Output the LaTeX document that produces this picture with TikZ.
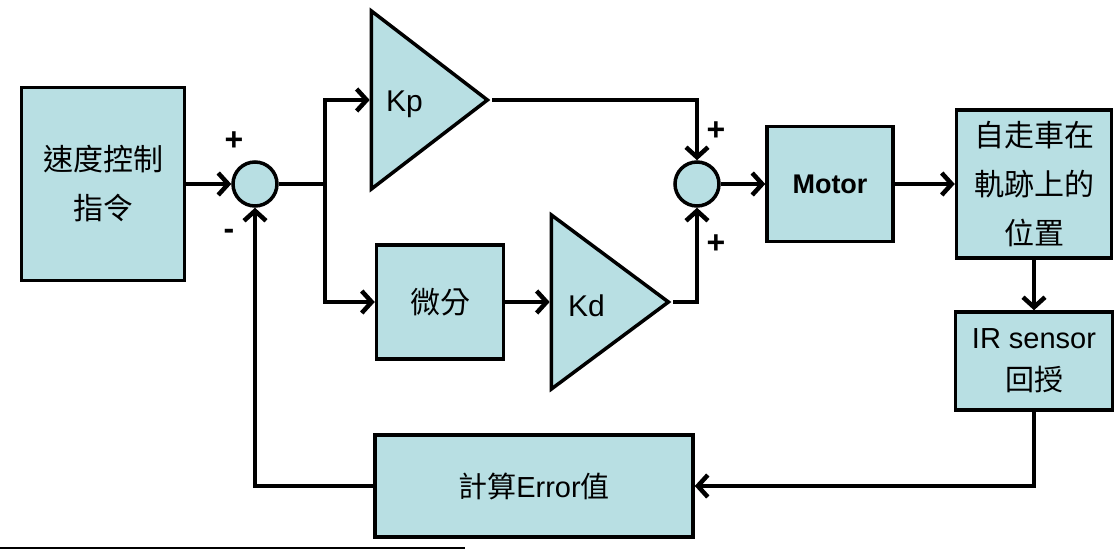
\documentclass[tikz,border=0pt]{standalone}
\usepackage{fontspec}
\setmainfont{Liberation Sans}
\newfontfamily\cjk{Noto Sans CJK TC}
\usetikzlibrary{shapes.geometric, arrows.meta, positioning}
\usepackage{xcolor}
\definecolor{boxTeal}{RGB}{184,223,227}
\tikzset{
    % Shapes
    block/.style={rectangle, draw=black, line width=3.5pt, fill=boxTeal,
                  align=center, inner sep=0pt, font=\fontsize{29}{49}\selectfont},
    cjkblock/.style={block, font=\cjk\fontsize{30}{49}\selectfont},
    sumnode/.style={circle, draw=black, line width=3.5pt, fill=boxTeal,
                    minimum size=44pt, inner sep=0pt},
    gain/.style={isosceles triangle, isosceles triangle stretches, draw=black,
                 line width=3.5pt, fill=boxTeal, inner sep=0pt},
    % Flow & Labels
    flow/.style={-{Straight Barb[length=10pt,width=22pt]}, line width=4.5pt},
    wire/.style={line width=4.5pt},
    sign/.style={font=\bfseries\fontsize{32}{32}\selectfont, inner sep=0pt},
    lbl/.style={font=\fontsize{30}{30}\selectfont, inner sep=0pt, anchor=west}
}

\begin{document}
\begin{tikzpicture}[x=1pt, y=-1pt]
\useasboundingbox (0,0) rectangle (1120,551);

\node[cjkblock, minimum width=163pt, minimum height=193pt] (cmd) at (103,184) {速度控制\\指令};
\node[sumnode] (sum1) at (255,184) {};
\coordinate (br) at (325,184);

\node[gain, minimum width=178pt, minimum height=116pt, anchor=apex] (kp) at (492,100) {};
\node[lbl] (kplbl) at (386,104) {Kp};

\node[cjkblock, minimum width=127pt, minimum height=114pt] (diff) at (440,302) {微分};
\node[gain, minimum width=174pt, minimum height=117pt, anchor=apex] (kd) at (673,302) {};
\node[lbl] (kdlbl) at (568,306) {Kd};

\node[sumnode] (sum2) at (697,184) {};
\node[block, minimum width=126pt, minimum height=115pt, font=\bfseries\fontsize{27}{30}\selectfont] (motor) at (830,184) {Motor};
\node[cjkblock, minimum width=155pt, minimum height=148pt] (pos) at (1034,184) {自走車在\\軌跡上的\\位置};
\node[block, minimum width=157pt, minimum height=98pt, font=\fontsize{29}{42}\selectfont] (ir) at (1034,361) {IR sensor\\{\cjk 回授}};
\node[block, minimum width=318pt, minimum height=102pt] (err) at (534,486) {{\cjk 計算}Error{\cjk 值}};

% signs
\node[sign] (p1) at (234,141) {+};
\node[sign] (m1) at (229,234) {-};
\node[sign] (p2) at (716,131) {+};
\node[sign] (p3) at (716,244) {+};

\draw[flow] (cmd) -- (sum1);
\draw[wire] (sum1) -- (br);
\draw[flow] (br) |- (kp.west);
\draw[flow] (br) |- (diff.west);
\draw[flow] (diff) -- (kd.west);
\draw[flow] (kp.apex) -| (sum2.north);
\draw[flow] (kd.apex) -| (sum2.south);
\draw[flow] (sum2) -- (motor);
\draw[flow] (motor) -- (pos);
\draw[flow] (pos) -- (ir);
\draw[flow] (ir.south) |- (err.east);
\draw[flow] (err.west) -| (sum1.south);

\coordinate (ruleA) at (0,548);
\coordinate (ruleB) at (465,548);
\draw[line width=2pt] (ruleA) -- (ruleB);

\end{tikzpicture}
\end{document}
